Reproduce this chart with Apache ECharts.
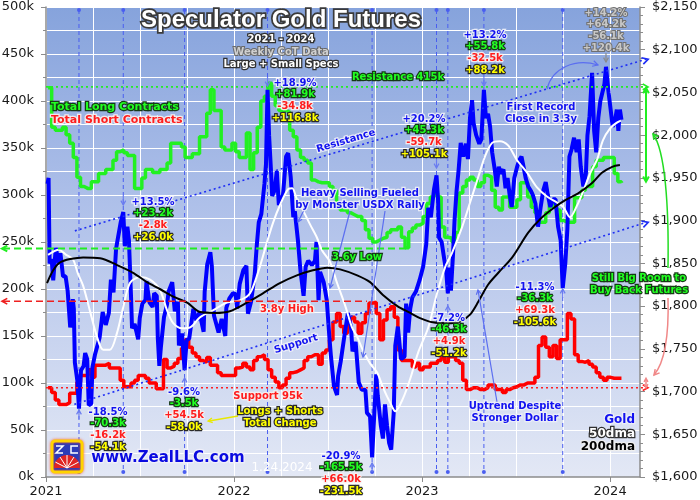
<!DOCTYPE html>
<html><head><meta charset="utf-8">
<script src="https://cdn.jsdelivr.net/npm/echarts/dist/echarts.min.js"></script>
<style>html,body{margin:0;padding:0;background:#fff}#c{width:700px;height:500px}</style>
</head><body><div id="c"></div>
<script>
// ---------------- DATA ----------------
const cotStart = '2021-01-05'; // weekly CoT report dates (Tuesdays)
const longs = [
 414,372,369,369,372,364,355,340,319,309,
 307,307,314,314,323,323,327,327,337,346,
 348,345,342,342,307,307,318,327,327,324,
 324,327,327,334,355,355,355,351,340,340,
 344,344,362,362,387,412,390,390,351,348,
 348,355,346,340,340,366,327,345,372,400,
 405,419,405,395,390,390,388,369,362,348,
 340,337,334,316,314,313,313,313,309,305,
 289,284,284,281,279,277,277,273,263,254,
 250,252,254,255,260,263,263,266,255,244,
 261,265,268,270,277,291,298,302,298,266,
 255,254,250,260,302,309,316,319,316,309,
 313,321,319,305,287,284,298,298,287,287,
 295,313,313,298,287,281,271,271,281,291,
 287,284,273,271,271,271,297,297,305,309,
 309,330,337,337,340,340,340,323,314,313];
const shorts = [
 95,90,82,77,77,79,89,89,101,108,
 108,114,106,119,119,119,121,116,116,116,
 103,96,96,100,103,108,108,105,100,100,
 94,94,125,116,118,121,126,137,146,138,
 132,128,124,122,127,119,119,111,108,108,
 108,108,116,117,121,117,114,124,128,130,
 125,114,106,101,95,98,105,111,112,114,
 116,124,128,130,130,120,132,135,146,165,
 174,160,153,167,170,165,153,164,174,185,
 186,174,146,167,178,181,170,135,124,124,
 124,117,121,114,117,117,121,121,124,127,
 122,128,128,124,121,103,93,95,95,93,
 93,95,98,98,93,93,90,93,95,96,
 98,98,100,100,100,106,140,149,138,128,
 140,126,146,146,174,168,130,123,122,124,
 120,117,111,106,103,106,105,105,105,105];
const gold = [
 ['2021-01-04',1943],['2021-01-06',1950],['2021-01-08',1850],['2021-01-12',1855],['2021-01-15',1830],['2021-01-20',1868],['2021-01-26',1850],['2021-01-29',1862],['2021-02-03',1835],['2021-02-08',1835],['2021-02-12',1818],['2021-02-17',1775],['2021-02-22',1808],['2021-02-24',1797],['2021-02-26',1734],['2021-03-03',1712],['2021-03-06',1680],['2021-03-10',1725],['2021-03-15',1730],['2021-03-18',1745],['2021-03-22',1738],['2021-03-25',1684],['2021-03-30',1686],['2021-04-01',1728],['2021-04-06',1743],['2021-04-09',1744],['2021-04-15',1763],['2021-04-21',1793],['2021-04-27',1778],['2021-05-03',1792],['2021-05-07',1831],['2021-05-12',1816],['2021-05-17',1867],['2021-05-21',1881],['2021-05-26',1898],['2021-05-31',1910],['2021-06-03',1870],['2021-06-08',1893],['2021-06-11',1877],['2021-06-15',1812],['2021-06-17',1774],['2021-06-22',1779],['2021-06-29',1761],['2021-07-02',1786],['2021-07-07',1803],['2021-07-13',1807],['2021-07-15',1829],['2021-07-21',1804],['2021-07-27',1799],['2021-07-30',1815],['2021-08-04',1812],['2021-08-06',1763],['2021-08-09',1730],['2021-08-12',1752],['2021-08-18',1787],['2021-08-24',1802],['2021-08-27',1817],['2021-09-03',1828],['2021-09-08',1794],['2021-09-14',1805],['2021-09-16',1754],['2021-09-22',1768],['2021-09-27',1725],['2021-10-01',1760],['2021-10-06',1762],['2021-10-14',1797],['2021-10-20',1783],['2021-10-26',1793],['2021-10-29',1784],['2021-11-03',1770],['2021-11-05',1817],['2021-11-10',1849],['2021-11-16',1863],['2021-11-19',1846],['2021-11-23',1789],['2021-11-26',1788],['2021-12-02',1769],['2021-12-08',1785],['2021-12-15',1765],['2021-12-17',1798],['2021-12-23',1809],['2021-12-30',1815],
 ['2022-01-04',1814],['2022-01-07',1797],['2022-01-12',1826],['2022-01-19',1842],['2022-01-25',1847],['2022-01-28',1791],['2022-02-03',1805],['2022-02-10',1836],['2022-02-14',1870],['2022-02-18',1898],['2022-02-23',1908],['2022-03-01',1943],['2022-03-04',1966],['2022-03-07',2053],['2022-03-10',2000],['2022-03-14',1955],['2022-03-16',1929],['2022-03-21',1936],['2022-03-25',1958],['2022-03-29',1918],['2022-04-01',1925],['2022-04-06',1930],['2022-04-12',1975],['2022-04-16',1979],['2022-04-21',1951],['2022-04-26',1904],['2022-04-29',1911],['2022-05-05',1877],['2022-05-10',1841],['2022-05-16',1812],['2022-05-20',1846],['2022-05-25',1853],['2022-06-01',1848],['2022-06-07',1853],['2022-06-10',1875],['2022-06-14',1807],['2022-06-17',1840],['2022-06-24',1828],['2022-06-30',1807],['2022-07-05',1764],['2022-07-08',1742],['2022-07-14',1706],['2022-07-20',1696],['2022-07-22',1718],['2022-07-27',1735],['2022-08-02',1760],['2022-08-10',1792],['2022-08-16',1775],['2022-08-19',1747],['2022-08-25',1758],['2022-08-31',1711],['2022-09-06',1702],['2022-09-13',1702],['2022-09-16',1675],['2022-09-22',1671],['2022-09-26',1623],['2022-09-29',1659],['2022-10-04',1720],['2022-10-07',1695],['2022-10-13',1660],['2022-10-17',1645],['2022-10-21',1685],['2022-10-25',1660],['2022-10-29',1640],['2022-11-02',1632],['2022-11-07',1676],['2022-11-10',1754],['2022-11-15',1776],['2022-11-21',1738],['2022-11-28',1741],['2022-12-01',1803],['2022-12-05',1769],['2022-12-09',1797],['2022-12-13',1810],['2022-12-20',1817],['2022-12-27',1830],
 ['2023-01-03',1846],['2023-01-09',1872],['2023-01-13',1915],['2023-01-18',1904],['2023-01-24',1936],['2023-01-29',1953],['2023-02-01',1925],['2023-02-03',1880],['2023-02-08',1875],['2023-02-13',1855],['2023-02-17',1840],['2023-02-20',1815],['2023-02-23',1845],['2023-02-26',1818],['2023-03-02',1860],['2023-03-05',1900],['2023-03-09',1935],['2023-03-13',1960],['2023-03-17',1991],['2023-03-22',1975],['2023-03-27',1990],['2023-03-31',1972],['2023-04-04',2020],['2023-04-08',2041],['2023-04-11',2014],['2023-04-16',2000],['2023-04-22',1990],['2023-04-26',1995],['2023-05-01',2053],['2023-05-05',2020],['2023-05-09',2025],['2023-05-13',2010],['2023-05-17',1980],['2023-05-22',1960],['2023-05-26',1940],['2023-05-30',1963],['2023-06-03',1955],['2023-06-08',1960],['2023-06-12',1938],['2023-06-16',1950],['2023-06-20',1930],['2023-06-24',1916],['2023-06-29',1950],['2023-07-04',1962],['2023-07-08',1970],['2023-07-13',1975],['2023-07-17',1963],['2023-07-21',1950],['2023-07-26',1940],['2023-07-31',1935],['2023-08-04',1930],['2023-08-09',1920],['2023-08-14',1893],['2023-08-19',1915],['2023-08-24',1935],['2023-08-29',1945],['2023-09-02',1930],['2023-09-07',1916],['2023-09-12',1925],['2023-09-17',1925],['2023-09-22',1893],['2023-09-27',1877],['2023-10-01',1821],['2023-10-06',1850],['2023-10-10',1890],['2023-10-14',1975],['2023-10-18',1983],['2023-10-23',1997],['2023-10-28',1980],['2023-11-01',1995],['2023-11-05',1963],['2023-11-10',1940],['2023-11-15',1955],['2023-11-18',2000],['2023-11-22',2022],['2023-11-27',2073],['2023-12-01',2005],['2023-12-05',1980],['2023-12-09',2020],['2023-12-13',2040],['2023-12-17',2050],['2023-12-21',2060],['2023-12-24',2080],['2023-12-29',2050],
 ['2024-01-02',2030],['2024-01-06',2010],['2024-01-10',2015],['2024-01-14',2030],['2024-01-17',2005],['2024-01-20',2030],['2024-01-23',2018]];
const ma50 = [
 ['2021-01-05',1860],['2021-01-26',1866],['2021-02-09',1860],['2021-02-22',1855],['2021-03-04',1838],['2021-03-14',1824],['2021-03-27',1795],['2021-04-10',1764],['2021-04-22',1749],['2021-05-05',1749],['2021-05-19',1769],['2021-05-31',1799],['2021-06-13',1827],['2021-07-03',1834],['2021-07-22',1831],['2021-08-10',1819],['2021-08-24',1795],['2021-09-05',1780],['2021-09-22',1774],['2021-10-08',1775],['2021-10-27',1787],['2021-11-21',1795],['2021-12-18',1804],
 ['2022-01-13',1807],['2022-02-01',1815],['2022-02-17',1840],['2022-02-26',1858],['2022-03-06',1875],['2022-03-18',1898],['2022-03-31',1918],['2022-04-16',1937],['2022-04-24',1938],['2022-05-03',1925],['2022-05-15',1912],['2022-05-29',1895],['2022-06-11',1880],['2022-06-21',1865],['2022-07-06',1852],['2022-07-20',1827],['2022-08-05',1800],['2022-08-18',1775],['2022-08-28',1764],['2022-09-07',1750],['2022-09-22',1733],['2022-10-06',1722],['2022-10-17',1705],['2022-10-31',1687],['2022-11-10',1677],['2022-11-25',1692],['2022-12-09',1715],['2022-12-24',1745],
 ['2023-01-13',1775],['2023-01-30',1815],['2023-02-15',1846],['2023-02-28',1862],['2023-03-20',1893],['2023-04-04',1921],['2023-04-20',1951],['2023-05-03',1975],['2023-05-17',1991],['2023-06-01',1993],['2023-06-17',1988],['2023-07-04',1971],['2023-07-24',1956],['2023-08-12',1939],['2023-09-01',1928],['2023-09-20',1921],['2023-10-02',1916],['2023-10-15',1904],['2023-10-29',1918],['2023-11-10',1935],['2023-11-23',1955],['2023-12-07',1972],['2023-12-18',1994],
 ['2024-01-01',2008],['2024-01-15',2015],['2024-01-22',2017]];
const ma200 = [
 ['2021-01-03',1827],['2021-01-15',1842],['2021-01-28',1851],['2021-02-17',1855],['2021-03-14',1857],['2021-04-16',1856],['2021-05-19',1848],['2021-06-19',1839],['2021-07-16',1828],['2021-08-10',1820],['2021-09-05',1811],['2021-10-02',1804],['2021-10-27',1793],['2021-11-25',1792],['2021-12-24',1794],
 ['2022-01-26',1804],['2022-02-26',1815],['2022-03-31',1827],['2022-05-03',1836],['2022-06-03',1842],['2022-07-01',1845],['2022-07-26',1843],['2022-08-28',1836],['2022-09-22',1828],['2022-10-17',1813],['2022-11-14',1800],['2022-12-09',1792],['2022-12-28',1786],
 ['2023-01-22',1781],['2023-02-19',1780],['2023-03-16',1782],['2023-04-04',1790],['2023-04-20',1805],['2023-05-09',1825],['2023-05-29',1839],['2023-06-25',1857],['2023-07-26',1886],['2023-08-22',1904],['2023-09-16',1916],['2023-10-06',1924],['2023-10-31',1932],['2023-11-27',1944],['2023-12-16',1956],
 ['2024-01-05',1963],['2024-01-20',1965]];
const yearLabels = ['2021','2022','2023','2024'];
const vLineDates = ['2021-03-06','2021-05-31','2021-09-27','2022-03-07','2022-09-26','2023-01-29','2023-02-20','2023-05-01','2023-10-01'];
const annotations = [
 {date:'2021-03-06', dir:'up',   lines:['-18.5%','-70.3k','-16.2k','-54.1k']},
 {date:'2021-05-31', dir:'down', lines:['+13.5%','+23.2k','-2.8k','+26.0k']},
 {date:'2021-09-27', dir:'up',   lines:['-9.6%','-3.5k','+54.5k','-58.0k']},
 {date:'2022-03-07', dir:'down', lines:['+18.9%','+81.9k','-34.8k','+116.8k']},
 {date:'2022-09-26', dir:'up',   lines:['-20.9%','-165.5k','+66.0k','-231.5k']},
 {date:'2023-01-29', dir:'down', lines:['+20.2%','+45.3k','-59.7k','+105.1k']},
 {date:'2023-02-20', dir:'up',   lines:['-7.2%','-46.3k','+4.9k','-51.2k']},
 {date:'2023-05-01', dir:'down', lines:['+13.2%','+55.8k','-32.5k','+88.2k']},
 {date:'2023-10-01', dir:'up',   lines:['-11.3%','-36.3k','+69.3k','-105.6k']},
 {date:'2023-12-24', dir:'down', lines:['+14.2%','+64.2k','-56.1k','+120.4k'], muted:true}];
const longsResistance = 415, shortsSupport = 95, longsLow = 243, shortsHigh = 187;
const resistanceTrend = [['2021-02-26',1888],['2024-03-15',2089]];
const supportTrend = [['2021-02-25',1685],['2024-03-15',1898]];

// ---------------- LAYOUT (pixels) ----------------
const annLayout = [[410,108,412],[205,153,202],[378,184,392],[86,295,83],[463,341,456],[168,424,119],[306,449,318],[86,485,35],[289,535,287],[62,606,13]];

// ---------------- CHART ----------------
const DAY = 864e5, YEAR = 365*DAY;
const ts = s => Date.parse(s);
const xMin = ts('2021-01-01'), xMax = ts('2024-02-28');
const cotDates = longs.map((_, i) => ts(cotStart) + i*7*DAY);
const pairs = a => a.map(p => [ts(p[0]), p[1]]);
const chart = echarts.init(document.getElementById('c'));
const axisGray = '#8c8c8c';
const lblFont = {fontSize:13, color:'#1a1a1a', fontFamily:'DejaVu Sans'};

chart.setOption({
  animation:false,
  backgroundColor:'#ffffff',
  grid:{left:46, right:60, top:7, bottom:23, show:true, borderWidth:0, outerBoundsMode:'none',
    backgroundColor:new echarts.graphic.LinearGradient(0,0,0,1,[
      {offset:0,color:'#86a3dc'},{offset:0.45,color:'#b1c2ea'},{offset:1,color:'#e3e8f5'}])},
  xAxis:[
    {type:'value', min:xMin, max:xMax, interval:YEAR, position:'bottom',
     axisLine:{lineStyle:{color:axisGray, width:1.5}},
     axisTick:{show:true, length:5, lineStyle:{color:axisGray}},
     splitLine:{show:true, lineStyle:{color:'#ffffff', width:1}},
     axisLabel:Object.assign({margin:8, showMaxLabel:false,
       formatter:v => { const i = Math.round((v - xMin)/YEAR); return (Math.abs(v - xMin - i*YEAR) < DAY && yearLabels[i]) ? yearLabels[i] : ''; }}, lblFont)},
    {type:'value', min:xMin, max:xMax, interval:YEAR/4, position:'bottom',
     axisLine:{show:false}, axisTick:{show:false}, axisLabel:{show:false},
     splitLine:{show:true, lineStyle:{color:'#ffffff', width:1}}}
  ],
  yAxis:[
    {type:'value', position:'left', min:0, max:500, interval:50,
     axisLine:{show:true, lineStyle:{color:axisGray, width:1.5}},
     axisTick:{show:true, length:5, lineStyle:{color:axisGray}},
     minorTick:{show:true, splitNumber:2, length:3, lineStyle:{color:axisGray}},
     splitLine:{show:true, lineStyle:{color:'#ffffff', width:1}},
     minorSplitLine:{show:true, lineStyle:{color:'#ffffff', width:1}},
     axisLabel:Object.assign({margin:12, formatter:v => v + 'k'}, lblFont)},
    {type:'value', position:'right', min:1600, max:2150, interval:50,
     axisLine:{show:true, lineStyle:{color:axisGray, width:1.5}},
     axisTick:{show:true, length:5, lineStyle:{color:axisGray}},
     minorTick:{show:true, splitNumber:5, length:3, lineStyle:{color:axisGray}},
     splitLine:{show:false},
     axisLabel:Object.assign({margin:12, formatter:v => '$' + String(v).replace(/\B(?=(\d{3})+(?!\d))/g, ',')}, lblFont)}
  ],
  series:[
    {name:'Total Long Contracts', type:'line', xAxisIndex:0, yAxisIndex:0, step:'end', symbol:'none', z:2,
     data:cotDates.map((t,i) => [t, longs[i]]), lineStyle:{color:'#22f022', width:3.5}},
    {name:'Total Short Contracts', type:'line', xAxisIndex:0, yAxisIndex:0, step:'end', symbol:'none', z:2,
     data:cotDates.map((t,i) => [t, shorts[i]]), lineStyle:{color:'#ff0000', width:3.5}},
    {name:'Gold', type:'line', xAxisIndex:0, yAxisIndex:1, symbol:'none', z:3,
     data:pairs(gold), lineStyle:{color:'#0000ff', width:4}},
    {name:'50dma', type:'line', xAxisIndex:0, yAxisIndex:1, symbol:'none', smooth:0.3, z:4,
     data:pairs(ma50), lineStyle:{color:'#ffffff', width:2}},
    {name:'200dma', type:'line', xAxisIndex:0, yAxisIndex:1, symbol:'none', smooth:0.3, z:4,
     data:pairs(ma200), lineStyle:{color:'#000000', width:2}}
  ]
});

// ---------------- OVERLAYS ----------------
const X = d => chart.convertToPixel({xAxisIndex:0}, ts(d));
const YL = v => chart.convertToPixel({yAxisIndex:0}, v);
const PR = (d, v) => chart.convertToPixel({xAxisIndex:0, yAxisIndex:1}, [ts(d), v]);
const plotL = X('2021-01-01');
const G = [];
function seg(x1,y1,x2,y2,color,w,dash,z){G.push({type:'line',z:z||6,silent:true,shape:{x1,y1,x2,y2},style:{stroke:color,lineWidth:w,lineDash:dash||null}});}
function chev(x,y,ang,color,len,w,z){len=len||6;const a1=ang+Math.PI-0.5,a2=ang+Math.PI+0.5;
  G.push({type:'polyline',z:z||6,silent:true,shape:{points:[[x+len*Math.cos(a1),y+len*Math.sin(a1)],[x,y],[x+len*Math.cos(a2),y+len*Math.sin(a2)]]},style:{stroke:color,lineWidth:w||1.5,fill:null}});}
function curve(x1,y1,c1x,c1y,c2x,c2y,x2,y2,color,w){
  G.push({type:'bezierCurve',z:7,silent:true,shape:{x1,y1,x2,y2,cpx1:c1x,cpy1:c1y,cpx2:c2x,cpy2:c2y},style:{stroke:color,lineWidth:w||1.2,fill:null}});
  chev(x2,y2,Math.atan2(y2-c2y,x2-c2x),color,6,w||1.2,7);}
const ST = {
  blue:{fill:'#1212f0',stroke:'rgba(236,238,248,0.95)',lw:2.5},
  green:{fill:'#22ff22',stroke:'#163a16',lw:2.5},
  red:{fill:'#ff1c1c',stroke:'rgba(246,238,238,0.95)',lw:2.5},
  yellow:{fill:'#ffff00',stroke:'#2a2a2a',lw:2.5},
  gray:{fill:'#c8c8c8',stroke:'#707070',lw:2},
  white:{fill:'#ffffff',stroke:'#303030',lw:2.5},
  black:{fill:'#000000',stroke:'#eeeeee',lw:2.5},
  lgray:{fill:'#d0d0d0',stroke:'#6a6a6a',lw:2}
};
function txt(s,x,y,st,size,align,extra,weight,family){
  G.push(Object.assign({type:'text',z:20,silent:true,x,y,style:{text:s,x:0,y:0,
    font:(weight||'bold')+' '+(size||10)+'px '+(family||'"DejaVu Sans"'),
    fill:st.fill,stroke:st.stroke,lineWidth:st.lw,align:align||'center',verticalAlign:'middle'}},extra||{}));
}

// vertical event lines
const vBlue = '#4a5ef0';
vLineDates.forEach(d => { const x = X(d);
  seg(x,10,x,472,vBlue,1,[4,3],1);
  G.push({type:'circle',z:1,silent:true,shape:{cx:x,cy:10,r:2},style:{fill:vBlue}});
  G.push({type:'circle',z:1,silent:true,shape:{cx:x,cy:472,r:2},style:{fill:vBlue}});
});

// horizontal reference levels
const yR = YL(longsResistance), yS = YL(shortsSupport), yLow = YL(longsLow), yHigh = YL(shortsHigh);
seg(plotL,yR,647,yR,'#22ee22',1.6,[2,3]); chev(648,yR,0,'#22ee22',6,1.6);
seg(plotL,yS,647,yS,'#ff2020',1.6,[2,3]); chev(648,yS,0,'#ff2020',6,1.6);
seg(3,yLow,X('2022-12-06'),yLow,'#22ee22',2,[7,4]); chev(2,yLow,Math.PI,'#22ee22',6,2);
seg(3,yHigh,X('2022-09-16'),yHigh,'#ee2020',1.6,[7,4]); chev(2,yHigh,Math.PI,'#ee2020',6,1.6);

// trend channel (gold, right axis)
[[resistanceTrend,'#1e2ef5'],[supportTrend,'#1e2ef5']].forEach(([tr,c]) => {
  const a = PR(tr[0][0], tr[0][1]), b = PR(tr[1][0], tr[1][1]);
  seg(a[0],a[1],b[0]-2,b[1],c,1.6,[2,3]);
  chev(b[0],b[1],Math.atan2(b[1]-a[1],b[0]-a[0]),c,7,1.6);
});

// right-side range arrows
const yLast = YL(longs[longs.length-1]), ySLast = YL(shorts[shorts.length-1]);
seg(646,yR+2,646,yLast-2,'#22ee22',2,null,7); chev(646,yR+1,-Math.PI/2,'#22ee22',6,2,7); chev(646,yLast-1,Math.PI/2,'#22ee22',6,2,7);
seg(646,ySLast+1,646,yS-1,'#f08888',1.5,null,7); chev(646,ySLast,-Math.PI/2,'#f08888',4,1.5,7); chev(646,yS,Math.PI/2,'#f08888',4,1.5,7);
curve(668,268,669,205,665,150,653,134,'#22dd22',1.5);
curve(668,298,669,335,665,362,654,375,'#f08888',1.5);

// event annotations
annotations.forEach((a,i) => {
  const [tipY,cx,ty] = annLayout[i]; const x = X(a.date);
  const ac = a.muted ? '#8a8a8a' : '#6a7cf0';
  if (a.dir === 'down') { seg(x,tipY-9,x,tipY,ac,1.2,null,8); chev(x,tipY,Math.PI/2,ac,5,1.2,8); }
  else { seg(x,tipY+9,x,tipY,ac,1.2,null,8); chev(x,tipY,-Math.PI/2,ac,5,1.2,8); }
  const sts = a.muted ? [ST.gray,ST.gray,ST.gray,ST.gray] : [ST.blue,ST.green,ST.red,ST.yellow];
  a.lines.forEach((s,j) => txt(s,cx,ty+j*11.8,sts[j],10));
});

// pointer arrows
const pBlue = '#5b6ef0';
curve(547,89,552,68,575,58,598,65,pBlue,1.2);
seg(304,210,298,222,pBlue,1.2,null,7); chev(298,222,Math.atan2(12,-6),pBlue,5,1.2,7);
seg(350,211,330,288,pBlue,1.2,null,7); chev(330,288,Math.atan2(77,-20),pBlue,5,1.2,7);
seg(385,211,363,357,pBlue,1.2,null,7); chev(363,357,Math.atan2(146,-22),pBlue,5,1.2,7);
seg(497,402,478,290,pBlue,1.2,null,7); chev(478,290,Math.atan2(-112,-19),pBlue,5,1.2,7);
seg(238,416,209,421,'#e8e800',1.3,null,7); chev(208,421,Math.atan2(5,-30),'#e8e800',5,1.3,7);

// titles and labels
G.push({type:'text',z:20,silent:true,x:281,y:20,style:{text:'Speculator Gold Futures',x:0,y:0,font:'bold 24px "Liberation Sans"',fill:'#ffffff',stroke:'#3a3a3a',lineWidth:3.5,align:'center',verticalAlign:'middle',shadowColor:'rgba(0,0,0,0.45)',shadowBlur:3,shadowOffsetX:1,shadowOffsetY:1}});
txt('2021 - 2024',281,39,ST.white,10);
txt('Weekly CoT Data',281,52,ST.lgray,10);
txt('Large + Small Specs',281,64,ST.white,10);
txt('Total Long Contracts',51,107,ST.green,11,'left');
txt('Total Short Contracts',51,120,ST.red,11,'left');
txt('Resistance 415k',398,77,ST.green,10);
txt('Resistance',346,141,ST.blue,10,'center',{rotation:0.29});
txt('Support',296,344,ST.blue,10,'center',{rotation:0.3});
txt('Heavy Selling Fueled',360,193,ST.blue,10);
txt('by Monster USDX Rally',360,205,ST.blue,10);
txt('3.6y Low',357,257,ST.green,10);
txt('3.8y High',287,309,ST.red,10);
txt('Support 95k',268,396,ST.red,10);
txt('Longs + Shorts',280,411,ST.yellow,10);
txt('Total Change',280,423,ST.yellow,10);
txt('First Record',541,107,ST.blue,10);
txt('Close in 3.3y',541,119,ST.blue,10);
txt('Uptrend Despite',515,406,ST.blue,10);
txt('Stronger Dollar',515,418,ST.blue,10);
txt('Still Big Room to',639,278,ST.green,10);
txt('Buy Back Futures',639,290,ST.green,10);
txt('Gold',635,420,ST.blue,12,'right');
txt('50dma',635,434,ST.white,12,'right');
txt('200dma',635,447,ST.black,12,'right');
txt('1.24.2024',282,468,{fill:'#ffffff',stroke:null,lw:0},12,'center',null,'normal');
txt('www.ZealLLC.com',168,458,{fill:'#0a0ae0',stroke:'rgba(240,240,250,0.95)',lw:2.5},15);

// logo
G.push({type:'rect',z:20,silent:true,shape:{x:52,y:441,width:30,height:31,r:3},style:{fill:'#2b3bb8',stroke:'#ffd400',lineWidth:3,shadowColor:'rgba(255,80,40,0.8)',shadowBlur:3}});
G.push({type:'sector',z:21,silent:true,shape:{cx:67,cy:468,r0:0,r:13,startAngle:Math.PI,endAngle:2*Math.PI},style:{fill:'#e02424'}});
[0.15,0.32,0.5,0.68,0.85].forEach(f => { const a = Math.PI + f*Math.PI;
  G.push({type:'line',z:22,silent:true,shape:{x1:67,y1:468,x2:67+13*Math.cos(a),y2:468+13*Math.sin(a)},style:{stroke:'#ffffff',lineWidth:1}}); });
G.push({type:'polyline',z:22,silent:true,shape:{points:[[56,446],[63,446],[56,453],[63,453]]},style:{stroke:'#ffffff',lineWidth:1.5,fill:null}});
G.push({type:'polyline',z:22,silent:true,shape:{points:[[78,446],[71,446],[71,453],[78,453]]},style:{stroke:'#ffffff',lineWidth:1.5,fill:null}});

chart.setOption({graphic:G});
</script>
</body></html>
